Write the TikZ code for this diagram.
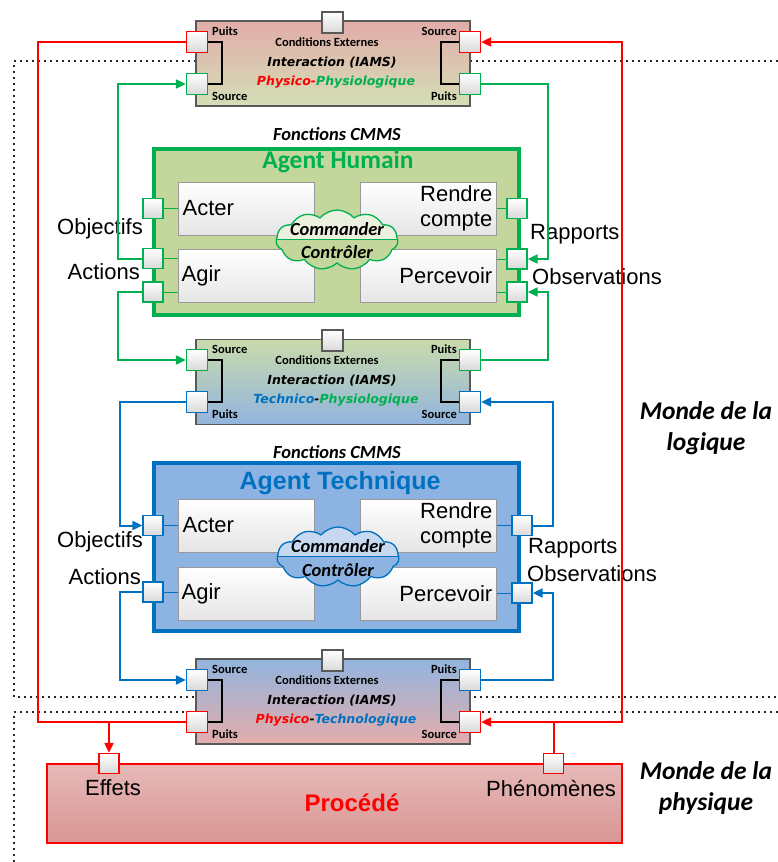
\documentclass[tikz,border=0pt]{standalone}
\usepackage{fontspec}
\setmainfont{Liberation Sans}
\newfontfamily\calfont{Carlito}
\newfontfamily\verfont{DejaVu Sans}[ItalicFont={DejaVu Sans Oblique},BoldFont={DejaVu Sans Bold},BoldItalicFont={DejaVu Sans Bold Oblique}]
\usetikzlibrary{arrows.meta,shapes.symbols}
\definecolor{cgreen}{HTML}{00B050}
\definecolor{cred}{HTML}{FF0000}
\definecolor{cblue}{HTML}{0070C0}
\definecolor{hfill}{HTML}{C3D69B}
\definecolor{hlight}{HTML}{EBF1DE}
\definecolor{tfill}{HTML}{8DB3E2}
\definecolor{tlight}{HTML}{C6D9F1}
\definecolor{gpink}{HTML}{E2ACA9}
\definecolor{ggreen}{HTML}{D3DFB6}
\definecolor{ggreenb}{HTML}{C9DBAB}
\definecolor{gblue}{HTML}{92B4DE}
\definecolor{gpinkb}{HTML}{E4ADAB}
\definecolor{ptop}{HTML}{E6B9B8}
\definecolor{pbot}{HTML}{D99694}
\begin{document}
\begin{tikzpicture}[x=1pt,y=-1pt,
 port/.style={draw, line width=1.3pt, minimum size=20pt, inner sep=0pt, top color=white, bottom color=black!15},
 iport/.style={port, minimum size=21pt},
 ibox/.style={draw=black!65, line width=1.5pt, minimum width=274pt, minimum height=85pt, inner sep=0pt},
 agentbox/.style={line width=4pt, minimum width=365pt, minimum height=166pt, inner sep=0pt},
 inbox/.style={draw=black!40, line width=1pt, top color=white, bottom color=black!10, minimum width=136pt, minimum height=53pt, inner sep=0pt},
 big/.style={font=\fontsize{22}{25}\selectfont, inner sep=0pt},
 sm/.style={font=\calfont\bfseries\fontsize{12.5}{14}\selectfont, inner sep=0pt},
 iams/.style={font=\verfont\bfseries\itshape\fontsize{12.5}{15}\selectfont, inner sep=0pt},
 cmd/.style={font=\calfont\bfseries\itshape\fontsize{18.5}{21}\selectfont, inner sep=0pt},
 monde/.style={font=\calfont\bfseries\itshape\fontsize{25.5}{31}\selectfont, align=center, inner sep=0pt},
 conn/.style={line width=2pt},
 arr/.style={-{Triangle[length=10pt,width=9pt]}},
 brk/.style={line width=2pt, black},
 dots/.style={line width=1.8pt, dash pattern=on 1.8pt off 4.2pt, black!85},
 stub/.style={line width=1pt},
 cloudbox/.style={cloud, cloud puffs=11, cloud puff arc=100, aspect=2.2, minimum width=122pt, minimum height=60pt, line width=1.3pt, inner sep=0pt},
]
\fill[white] (0,0) rectangle (777,862);
\useasboundingbox (0,0) rectangle (777,862);

% world regions
\draw[dots] (790,61) -- (14,61) -- (14,697) -- (790,697);
\draw[dots] (790,712) -- (14,712) -- (14,870);

% side labels
\node[big, anchor=east] (lobj1) at (143,229) {Objectifs};
\node[big, anchor=east] (lact1) at (140,272) {Actions};
\node[big, anchor=west] (lrap1) at (530,234) {Rapports};
\node[big, anchor=west] (lobs1) at (532,277) {Observations};
\node[big, anchor=east] (lobj2) at (143,542) {Objectifs};
\node[big, anchor=east] (lact2) at (141,577) {Actions};
\node[big, anchor=west] (lrap2) at (528,548) {Rapports};
\node[big, anchor=west] (lobs2) at (527,574) {Observations};
\node[monde] (ml) at (706,428.5) {Monde de la\\logique};
\node[monde] (mp) at (706,788.5) {Monde de la\\physique};

% interaction boxes
\node[ibox, top color=gpink, bottom color=ggreen] (i1) at (333,63.5) {};
\node[ibox, top color=ggreenb, bottom color=gblue] (i2) at (333,382) {};
\node[ibox, top color=gblue, bottom color=gpinkb] (i3) at (333,701.5) {};

% agents
\node[agentbox, draw=cgreen, fill=hfill] (ah) at (336.5,232) {};
\node[agentbox, draw=cblue, fill=tfill, minimum height=168pt] (at) at (336.5,547) {};
\node[font=\calfont\bfseries\fontsize{25.5}{28}\selectfont, text=cgreen, inner sep=0pt] (aht) at (338,162) {Agent Humain};
\node[font=\bfseries\fontsize{25}{28}\selectfont, text=cblue, inner sep=0pt] (att) at (340,483) {Agent Technique};
\node[cmd] (fc1) at (337,134) {Fonctions CMMS};
\node[cmd] (fc2) at (337,452) {Fonctions CMMS};

% inner boxes
\node[inbox] (hacter) at (246,208.5) {};
\node[inbox] (hrendre) at (428,208.5) {};
\node[inbox] (hagir) at (246,276) {};
\node[inbox] (hperc) at (428,276) {};
\node[inbox] (tacter) at (246,525.5) {};
\node[inbox] (trendre) at (428,525.5) {};
\node[inbox] (tagir) at (246,593.5) {};
\node[inbox] (tperc) at (428,593.5) {};
\node[big, anchor=west] (hacterT) at ([xshift=5pt]hacter.west) {Acter};
\node[big, anchor=west] (hagirT) at ([xshift=4pt]hagir.west) {Agir};
\node[big, anchor=east, align=right] (hrendreT) at ([xshift=-4pt]hrendre.east) {Rendre\\compte};
\node[big, anchor=east] (hpercT) at ([xshift=-4pt]hperc.east) {Percevoir};
\node[big, anchor=west] (tacterT) at ([xshift=5pt]tacter.west) {Acter};
\node[big, anchor=west] (tagirT) at ([xshift=4pt]tagir.west) {Agir};
\node[big, anchor=east, align=right] (trendreT) at ([xshift=-4pt]trendre.east) {Rendre\\compte};
\node[big, anchor=east] (tpercT) at ([xshift=-4pt]tperc.east) {Percevoir};

% clouds
\node[cloudbox, draw=cgreen, path picture={
  \fill[hlight] (path picture bounding box.north west) rectangle (path picture bounding box.east);
  \fill[hfill] (path picture bounding box.west) rectangle (path picture bounding box.south east);
  \draw[cgreen, line width=1.3pt] (path picture bounding box.west) -- (path picture bounding box.east);}] (hc) at (337,240) {};
\node[cmd] (hc1) at (337,229) {Commander};
\node[cmd] (hc2) at (337,252) {Contrôler};
\node[cloudbox, draw=cblue, path picture={
  \fill[tlight] (path picture bounding box.north west) rectangle (path picture bounding box.east);
  \fill[tfill] (path picture bounding box.west) rectangle (path picture bounding box.south east);
  \draw[cblue, line width=1.3pt] (path picture bounding box.west) -- (path picture bounding box.east);}] (tc) at (338,557) {};
\node[cmd] (tc1) at (338,546) {Commander};
\node[cmd] (tc2) at (338,570) {Contrôler};

% agent ports
\node[port, draw=cgreen] (ha1) at (153,208.5) {};
\node[port, draw=cgreen] (ha2) at (153,258.5) {};
\node[port, draw=cgreen] (ha3) at (153,292) {};
\node[port, draw=cgreen] (hr1) at (517,208.5) {};
\node[port, draw=cgreen] (hr2) at (517,259) {};
\node[port, draw=cgreen] (hr3) at (517,292) {};
\node[port, draw=cblue] (ta1) at (153,525.5) {};
\node[port, draw=cblue] (ta2) at (153,592) {};
\node[port, draw=cblue] (tr1) at (522,525.5) {};
\node[port, draw=cblue] (tr2) at (522,593) {};
\draw[stub, cgreen] (ha1.east) -- (ha1.east -| hacter.west);
\draw[stub, cgreen] (ha2.east) -- (ha2.east -| hagir.west);
\draw[stub, cgreen] (ha3.east) -- (ha3.east -| hagir.west);
\draw[stub, cgreen] (hr1.west) -- (hr1.west -| hrendre.east);
\draw[stub, cgreen] (hr2.west) -- (hr2.west -| hperc.east);
\draw[stub, cgreen] (hr3.west) -- (hr3.west -| hperc.east);
\draw[stub, cblue] (ta1.east) -- (ta1.east -| tacter.west);
\draw[stub, cblue] (ta2.east) -- (ta2.east -| tagir.west);
\draw[stub, cblue] (tr1.west) -- (tr1.west -| trendre.east);
\draw[stub, cblue] (tr2.west) -- (tr2.west -| tperc.east);

% interaction box ports and texts
\node[iport, draw=black!65] (i1t) at (332.5,22.5) {};
\node[iport, draw=cred] (i1a) at (197,42) {};
\node[iport, draw=cgreen] (i1b) at (197,84) {};
\node[iport, draw=cred] (i1c) at (470,42) {};
\node[iport, draw=cgreen] (i1d) at (470,84) {};
\draw[brk] (i1a.east) -| ([xshift=14pt]i1b.east) -- (i1b.east);
\draw[brk] (i1c.west) -| ([xshift=-18pt]i1d.west) -- (i1d.west);
\node[sm, anchor=west] (i1l1) at (212,31) {Puits};
\node[sm, anchor=west] (i1l2) at (212,96) {Source};
\node[sm, anchor=east] (i1l3) at (457,31) {Source};
\node[sm, anchor=east] (i1l4) at (457,96) {Puits};
\node[sm] (i1ce) at (327,42) {Conditions Externes};
\node[iams] (i1x) at (332,63) {Interaction (IAMS)};
\node[iams] (i1y) at (336,82) {\textcolor{cred}{Physico-}\textcolor{cgreen}{Physiologique}};

\node[iport, draw=black!65] (i2t) at (332.5,340.5) {};
\node[iport, draw=cgreen] (i2a) at (197,360) {};
\node[iport, draw=cblue] (i2b) at (197,402) {};
\node[iport, draw=cgreen] (i2c) at (470,360) {};
\node[iport, draw=cblue] (i2d) at (470,402) {};
\draw[brk] (i2a.east) -| ([xshift=14pt]i2b.east) -- (i2b.east);
\draw[brk] (i2c.west) -| ([xshift=-18pt]i2d.west) -- (i2d.west);
\node[sm, anchor=west] (i2l1) at (212,349) {Source};
\node[sm, anchor=west] (i2l2) at (212,414) {Puits};
\node[sm, anchor=east] (i2l3) at (457,349) {Puits};
\node[sm, anchor=east] (i2l4) at (457,414) {Source};
\node[sm] (i2ce) at (327,360) {Conditions Externes};
\node[iams] (i2x) at (332,381) {Interaction (IAMS)};
\node[iams] (i2y) at (336,400) {\textcolor{cblue}{Technico}-\textcolor{cgreen}{Physiologique}};

\node[iport, draw=black!65] (i3t) at (332.5,660.5) {};
\node[iport, draw=cblue] (i3a) at (197,680) {};
\node[iport, draw=cred] (i3b) at (197,722) {};
\node[iport, draw=cblue] (i3c) at (470,680) {};
\node[iport, draw=cred] (i3d) at (470,722) {};
\draw[brk] (i3a.east) -| ([xshift=14pt]i3b.east) -- (i3b.east);
\draw[brk] (i3c.west) -| ([xshift=-18pt]i3d.west) -- (i3d.west);
\node[sm, anchor=west] (i3l1) at (212,669) {Source};
\node[sm, anchor=west] (i3l2) at (212,734) {Puits};
\node[sm, anchor=east] (i3l3) at (457,669) {Puits};
\node[sm, anchor=east] (i3l4) at (457,734) {Source};
\node[sm] (i3ce) at (327,680) {Conditions Externes};
\node[iams] (i3x) at (332,701) {Interaction (IAMS)};
\node[iams] (i3y) at (336,720) {\textcolor{cred}{Physico}-\textcolor{cblue}{Technologique}};

% procede
\node[draw=cred, line width=1.2pt, top color=ptop, bottom color=pbot, minimum width=575pt, minimum height=79pt, inner sep=0pt] (proc) at (334.5,803.5) {};
\node[font=\bfseries\fontsize{24}{26}\selectfont, text=cred, inner sep=0pt] (procT) at (352,803) {Procédé};
\node[port, draw=cred] (eff) at (109,763.5) {};
\node[port, draw=cred] (phen) at (553.5,763.5) {};
\node[big] (effT) at (113,788) {Effets};
\node[big] (phenT) at (551,788) {Phénomènes};

% routing coordinates
\coordinate (gl) at (118,0);
\coordinate (gr) at (548,0);
\coordinate (bl) at (120,0);
\coordinate (br) at (553,0);
\coordinate (rl) at (38,0);
\coordinate (rr) at (622,0);

% green connectors
\draw[conn, cgreen, arr] (ha2.west) -| (gl |- i1b.west) -- (i1b.west);
\draw[conn, cgreen, arr] (ha3.west) -| (gl |- i2a.west) -- (i2a.west);
\draw[conn, cgreen, arr] (i1d.east) -| (gr |- hr2.east) -- (hr2.east);
\draw[conn, cgreen, arr] (i2c.east) -| (gr |- hr3.east) -- (hr3.east);
% blue connectors
\draw[conn, cblue, arr] (i2b.west) -| (bl |- ta1.west) -- (ta1.west);
\draw[conn, cblue, arr] (ta2.west) -| (bl |- i3a.west) -- (i3a.west);
\draw[conn, cblue, arr] (tr1.east) -| (br |- i2d.east) -- (i2d.east);
\draw[conn, cblue, arr] (i3c.east) -| (br |- tr2.east) -- (tr2.east);
% red connectors
\coordinate (j1) at (eff.north |- i3b.west);
\coordinate (j2) at (phen.north |- i3d.east);
\draw[conn, cred] (i1a.west) -| (rl |- i3b.west) -- (i3b.west);
\draw[conn, cred, arr] (j1) -- (eff.north);
\draw[conn, cred] (phen.north) -- (j2);
\draw[conn, cred, arr] (j2) -- (i3d.east);
\draw[conn, cred, arr] (j2) -| (rr |- i1c.east) -- (i1c.east);
\end{tikzpicture}
\end{document}
